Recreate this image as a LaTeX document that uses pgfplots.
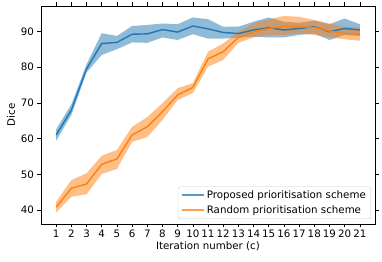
\documentclass[border=0pt]{standalone}
\usepackage{fontspec}
\setmainfont{DejaVu Sans}
\usepackage{pgfplots}
\pgfplotsset{compat=1.18}
\usepackage{pgfplotstable}
\usepgfplotslibrary{fillbetween}
\usetikzlibrary{calc}
\definecolor{tabblue}{HTML}{1F77B4}
\definecolor{taborange}{HTML}{FF7F0E}
\pgfplotstableread{
x m lo hi
1 61.0 59.4 62.6
2 68.0 66.6 69.6
3 79.5 78.5 80.8
4 86.6 83.4 89.5
5 86.9 85.0 88.7
6 89.2 86.9 91.5
7 89.3 86.8 91.8
8 90.5 88.3 92.2
9 89.8 87.6 92.0
10 91.5 89.2 93.9
11 90.7 88.0 93.4
12 89.7 88.0 91.3
13 89.4 88.2 91.3
14 90.4 88.5 92.7
15 91.0 88.3 93.9
16 90.4 88.3 92.7
17 90.8 89.0 92.4
18 91.3 89.4 93.0
19 89.9 87.6 92.0
20 90.8 89.0 93.6
21 90.4 88.7 92.0
}\blue
\pgfplotstableread{
x m lo hi
1 40.8 39.3 42.3
2 46.1 43.7 48.4
3 47.3 44.4 50.3
4 52.8 50.1 55.2
5 54.3 51.5 56.8
6 61.0 59.1 63.3
7 63.3 60.4 66.0
8 67.5 65.2 69.9
9 72.2 70.8 74.1
10 74.3 72.7 75.5
11 82.3 80.1 84.3
12 84.3 82.0 86.6
13 88.3 86.8 89.9
14 89.9 88.3 92.2
15 90.8 89.0 93.4
16 91.4 89.0 94.3
17 91.3 89.4 94.1
18 91.1 89.0 93.2
19 90.1 88.3 92.2
20 89.4 87.8 91.3
21 89.2 87.4 91.1
}\orange
\begin{document}
\begin{tikzpicture}
\begin{axis}[
  scale only axis,
  width=334bp, height=218bp,
  xmin=0, xmax=22, ymin=36.1, ymax=97.1,
  xtick={1,...,21},
  ytick={40,50,60,70,80,90},
  tick align=outside,
  major tick length=3.5bp,
  tick style={black, line width=0.6pt},
  axis line style={black, line width=0.6pt},
  tick label style={font=\fontsize{10.3}{12}\selectfont},
  label style={font=\fontsize{10.3}{12}\selectfont},
  /pgf/number format/assume math mode=true,
  xticklabel style={yshift=1bp},
  xlabel={Iteration number (c)},
  ylabel={Dice},
  xlabel style={yshift=3bp},
  ylabel style={yshift=-1bp},
  legend cell align=left,
  legend style={at={(1,0)}, anchor=south east, xshift=-4bp, yshift=5bp,
    draw=black!20, rounded corners=2pt, fill=white, fill opacity=0.8, text opacity=1,
    font=\fontsize{10.3}{12}\selectfont, row sep=1.5bp, inner xsep=3bp, inner ysep=2bp},
  legend image code/.code={\draw[#1, line width=1.8pt] (0bp,0bp) -- (22bp,0bp);},
]
\coordinate (sw) at (rel axis cs:0,0);
\coordinate (ne) at (rel axis cs:1,1);
\addplot[draw=none, forget plot, name path=bu] table[x=x,y=hi] {\blue};
\addplot[draw=none, forget plot, name path=bl] table[x=x,y=lo] {\blue};
\addplot[tabblue, fill opacity=0.5, draw=none, forget plot, fill=tabblue] fill between[of=bu and bl];
\addplot[tabblue, line width=1.4pt, forget plot] table[x=x,y=m] {\blue};
\addplot[draw=none, forget plot, name path=ou] table[x=x,y=hi] {\orange};
\addplot[draw=none, forget plot, name path=ol] table[x=x,y=lo] {\orange};
\addplot[taborange, fill opacity=0.5, draw=none, forget plot, fill=taborange] fill between[of=ou and ol];
\addplot[taborange, line width=1.4pt, forget plot] table[x=x,y=m] {\orange};
\addlegendimage{tabblue!75!white}
\addlegendentry{Proposed prioritisation scheme}
\addlegendimage{taborange!75!white}
\addlegendentry{Random prioritisation scheme}
\end{axis}
\pgfresetboundingbox
\path[use as bounding box] ($(sw)+(-41bp,-38bp)$) rectangle ($(ne)+(7bp,6bp)$);
\end{tikzpicture}
\end{document}
